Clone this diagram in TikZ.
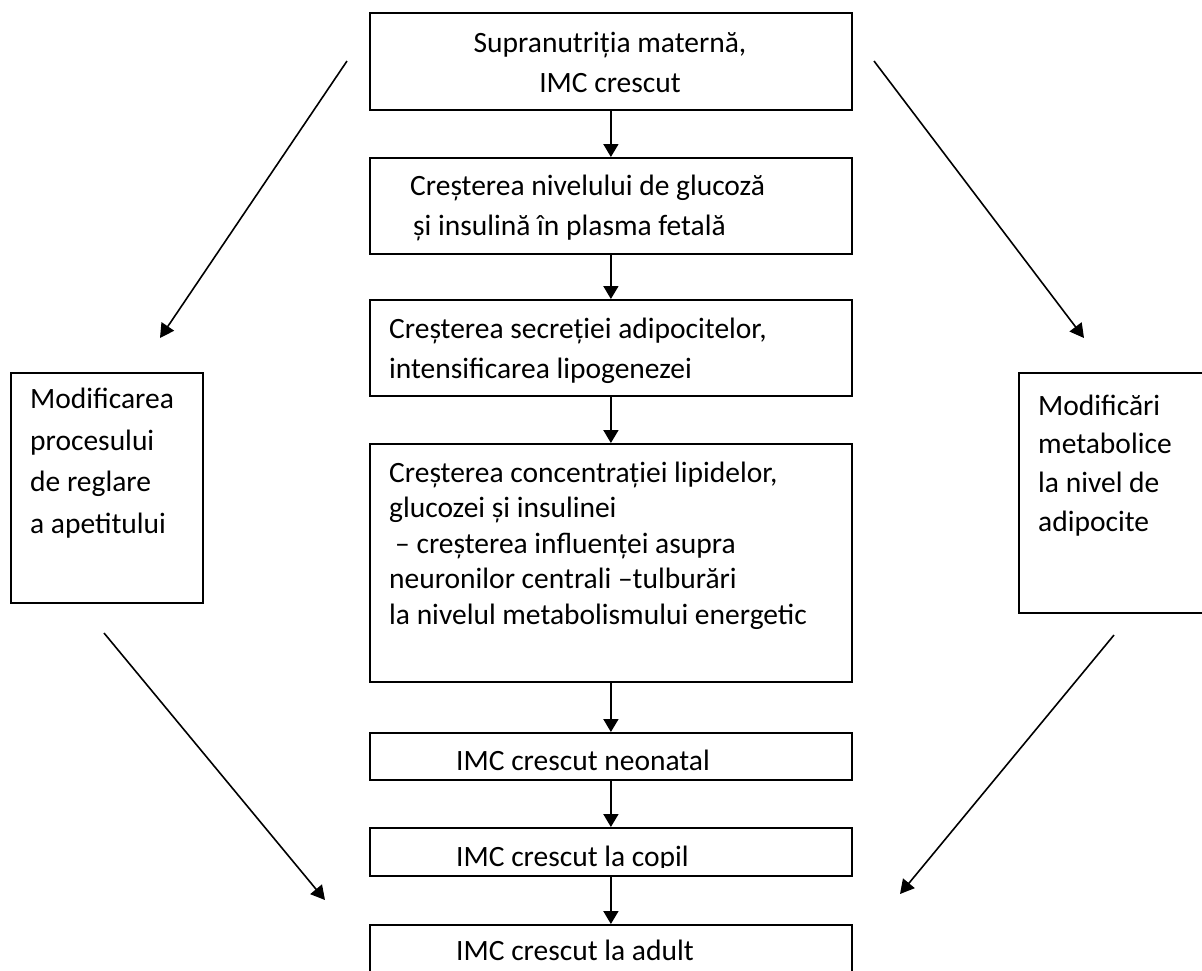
\documentclass[tikz,border=0pt]{standalone}
\usepackage{fontspec}
\setmainfont{Carlito}
\usetikzlibrary{arrows.meta}
\begin{document}
\begin{tikzpicture}[x=1pt,y=-1pt,
    box/.style={draw,line width=1.8pt,inner sep=0pt,anchor=north west},
    txt/.style={anchor=base west,inner sep=0pt,align=left},
    arr/.style={line width=1.8pt,-{Triangle[length=13pt,width=15pt]}},
    slant/.style={line width=1.6pt,-{Triangle[length=14pt,width=15pt]}}]
  \useasboundingbox (0,0) rectangle (1202,970);
  \clip (0,0) rectangle (1202,970);
  % middle chain
  \node[box,minimum width=482,minimum height=97] (matern) at (369,12) {};
  \node[box,minimum width=482,minimum height=96] (glucoza) at (369,157) {};
  \node[box,minimum width=482,minimum height=96] (secretie) at (369,299) {};
  \node[box,minimum width=482,minimum height=238] (lipide) at (369,443) {};
  \node[box,minimum width=482,minimum height=47] (neonatal) at (369,732) {};
  \node[box,minimum width=482,minimum height=48] (copil) at (369,827) {};
  \node[box,minimum width=482,minimum height=80] (adult) at (369,924) {};
  % side boxes
  \node[box,minimum width=192,minimum height=230] (apetit) at (10,372) {};
  \node[box,minimum width=200,minimum height=240] (adipo) at (1018,372) {};
  % texts (base = last line)
  \node[txt,anchor=base,align=center,font=\fontsize{29.5}{40}\selectfont] (tmatern) at (610,92)
    {Supranutriția maternă,\\IMC crescut};
  \node[txt,font=\fontsize{29.5}{40}\selectfont] (tglucoza) at (410,235)
    {Creșterea nivelului de glucoză\\\hspace*{3pt}și insulină în plasma fetală};
  \node[txt,font=\fontsize{29.5}{40}\selectfont] (tsecretie) at (389,378)
    {Creșterea secreției adipocitelor,\\intensificarea lipogenezei};
  \node[txt,font=\fontsize{29.5}{35.5}\selectfont] (tlipide) at (389,624)
    {Creșterea concentrației lipidelor,\\glucozei și insulinei\\\hspace*{6pt}– creșterea influenței asupra\\neuronilor centrali –tulburări\\la nivelul metabolismului energetic};
  \begin{scope}
    \clip (369,732) rectangle (851,771);
    \node[txt,font=\fontsize{29.5}{40}\selectfont] (tneonatal) at (456,770) {IMC crescut neonatal};
  \end{scope}
  \begin{scope}
    \clip (369,827) rectangle (851,867);
    \node[txt,font=\fontsize{29.5}{40}\selectfont] (tcopil) at (456,866) {IMC crescut la copil};
  \end{scope}
  \node[txt,font=\fontsize{29.5}{40}\selectfont] (tadult) at (456,960) {IMC crescut la adult};
  \node[txt,font=\fontsize{29.5}{41.5}\selectfont] (tapetit) at (30,533)
    {Modificarea\\procesului\\de reglare\\a apetitului};
  \node[txt,font=\fontsize{29.5}{38.6}\selectfont] (tadipo) at (1038,531)
    {Modificări\\metabolice\\la nivel de\\adipocite};
  % arrows
  \draw[arr] (matern) -- (glucoza);
  \draw[arr] (glucoza) -- (secretie);
  \draw[arr] (secretie) -- (lipide);
  \draw[arr] (lipide) -- (neonatal);
  \draw[arr] (neonatal) -- (copil);
  \draw[arr] (copil) -- (adult);
  % slanted arrows
  \coordinate (tl0) at (347,61);
  \coordinate (tl1) at (160,338);
  \coordinate (tr0) at (874,61);
  \coordinate (tr1) at (1084,338);
  \coordinate (bl0) at (104,633);
  \coordinate (bl1) at (325,900);
  \coordinate (br0) at (1114,635);
  \coordinate (br1) at (900,894);
  \draw[slant] (tl0) -- (tl1);
  \draw[slant] (tr0) -- (tr1);
  \draw[slant] (bl0) -- (bl1);
  \draw[slant] (br0) -- (br1);
\end{tikzpicture}
\end{document}
